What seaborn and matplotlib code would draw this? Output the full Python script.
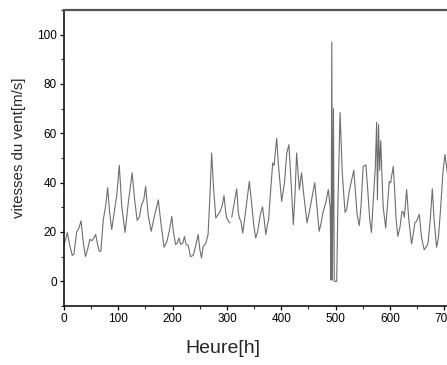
import numpy as np
import pandas as pd
import matplotlib
matplotlib.use("Agg")
import matplotlib.pyplot as plt
from matplotlib.ticker import MultipleLocator
import seaborn as sns

# Hours (h) and wind speeds (m/s)
hours = [0, 3, 6.1, 10.1, 15.2, 18.2, 23.3, 27.3, 31.4, 35.4, 39.5, 43.5, 47.6, 51.6, 54.7,
         58.3, 61.8, 64.8, 67.8, 72.4, 76.9, 80.4, 84, 87.8, 93.8, 97.2, 101.8, 106.3, 112.4,
         118.4, 125.5, 129.6, 134.6, 138.7, 142.7, 146.8, 150.3, 154.9, 160.5, 166, 173.6,
         178.2, 184.2, 189.3, 194.4, 198.4, 201.4, 205.5, 208.5, 211.6, 214.6, 218.7, 221.7,
         224.7, 228.8, 232.8, 237.9, 243, 247, 250, 253.1, 256.1, 261.2, 265.2, 268.3, 271.8,
         275.3, 279.4, 283.4, 287.5, 291.5, 294.6, 297.6, 299.6, 303.7, 305.7,
         308.8, 312.8, 317.9, 320.9, 322.9, 326, 329, 334.1, 341.1, 345.2, 349.2, 352.8,
         356.3, 361.4, 365.4, 368.5, 371.5, 374.6, 376.6, 379.1, 384.2, 386.7, 391.5, 394.8,
         400.7, 405.9, 410, 414, 418.1, 422.1, 425.2, 428.2, 430.2, 433.3, 437.3, 441.4,
         447.4, 451.5, 456.5, 461.6, 465.7, 469.7, 472.7, 476.8, 481.9, 486.5, 490, 491.5,
         493, 494, 496, 497.5, 500, 502, 504.1, 508.2, 512.2, 517.3, 520.3, 523.4, 526.4,
         530.4, 533.5, 536.5, 539.6, 543.6, 546.6, 550.7, 555.8, 558.8, 562.8, 565.9, 569.9,
         573, 575.5, 577, 579, 581, 583.1, 585.1, 587.6, 592.2, 596.2, 598.8, 601.3, 603.3,
         606.2, 608.4, 611.4, 614.5, 618.5, 622.1, 624.6, 626.6, 630.7, 634.7, 639.8, 642.8,
         645.8, 648.9, 654, 658, 663, 667.1, 670.1, 674.2, 678, 681.3, 685.9, 689.4, 693.4,
         697.5, 701.2, 704.6, 707.6]
speeds = [15, 17, 19.8, 15, 10.5, 11, 20, 21.5, 24.5, 16, 10.1, 13, 17, 16.5, 17.5,
          19, 15, 12.2, 12.2, 25, 31, 38, 28, 21, 30, 35, 47, 30.4, 19.8,
          32, 44, 34, 24.7, 26, 31, 33, 38.5, 27, 20.3, 26, 33,
          24, 13.8, 16, 21, 26.3, 20, 14.9, 15.5, 17.6, 15, 15.5, 18.2,
          15, 14.5, 10, 10.5, 15, 19, 13, 9.5, 14, 15.5, 19, 33, 52,
          38, 25.7, 27, 28.4, 31, 34.7, 28, 25.7, 24, 23.7,
          26, 31, 37.5, 28, 25.7, 24, 19.6, 28, 40.5, 32, 23, 17.6,
          20, 27, 30.2, 25, 19, 23, 25, 33, 48, 47, 58, 47,
          32.4, 40, 52, 55.4, 40, 23, 35, 52, 46, 37.2, 44, 35,
          23.7, 28, 34, 40, 30, 20.3, 23, 28, 32, 37.2, 30, 0.5,
          97, 0.5, 70, 0, 0, 0, 30, 68.5, 44, 28, 29, 34, 38,
          42, 45, 36, 27, 22.6, 30, 46.5, 47.2, 38, 25, 19.8, 35,
          46, 64.5, 33, 63.5, 45, 57, 44, 30, 21.6, 33, 40.5, 40, 43,
          46.6, 38, 25, 18.2, 22, 28.4, 28, 26, 37.2, 25, 15.2, 19,
          23.7, 24.3, 27.2, 18, 12.8, 14, 15.5, 25, 37.5, 25, 13.8, 18, 30,
          44, 51.4, 46, 40]
# the trace has a short break just after 305 h
segment = [0 if h <= 306 else 1 for h in hours]

xticks = [0, 100, 200, 300, 400, 500, 600, 700]
yticks = [0, 20, 40, 60, 80, 100]

df = pd.DataFrame({"hour": hours, "speed": speeds, "segment": segment})

sns.set_style("white")
plt.rcParams["font.family"] = ["Liberation Sans", "DejaVu Sans"]

fig = plt.figure(figsize=(4.47, 3.65), dpi=100)
ax = fig.add_axes([64 / 447, 59 / 365, 402 / 447, 296 / 365])

sns.lineplot(data=df, x="hour", y="speed", units="segment", estimator=None,
             color="#6e6e6e", linewidth=0.8, ax=ax, legend=False)

ax.set_xlim(0, 740)
ax.set_ylim(-10, 110)
ax.set_xticks(xticks)
ax.set_yticks(yticks)
ax.xaxis.set_minor_locator(MultipleLocator(50))
ax.yaxis.set_minor_locator(MultipleLocator(10))
ax.tick_params(axis="both", which="major", direction="out", length=3.2, width=0.9,
               labelsize=8.5, colors="black", pad=2,
               bottom=True, left=True, top=False, right=False)
ax.tick_params(axis="both", which="minor", direction="out", length=2, width=0.8,
               bottom=True, left=True, top=False, right=False)

for side in ["left", "bottom"]:
    ax.spines[side].set_color("black")
    ax.spines[side].set_linewidth(1.1)
ax.spines["top"].set_color("#555555")
ax.spines["top"].set_linewidth(1.6)
ax.spines["right"].set_visible(False)

ax.set_xlabel("Heure[h]", fontsize=14)
ax.xaxis.set_label_coords(223 / 447, 8 / 365, transform=fig.transFigure)
ax.set_ylabel("vitesses du vent[m/s]", fontsize=10.8)
ax.yaxis.set_label_coords(19 / 447, 1 - 147.5 / 365, transform=fig.transFigure)
ax.yaxis.label.set_va("center")
ax.xaxis.label.set_va("bottom")

fig.savefig("out.png", dpi=100)
